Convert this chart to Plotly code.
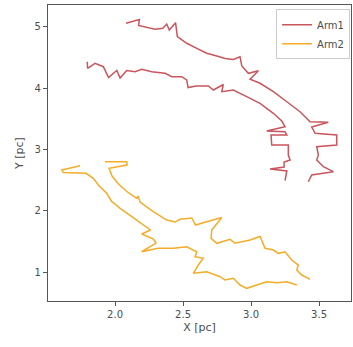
import plotly.graph_objects as go

# Arm1: outer and inner boundary traces (x, y in pc)
arm1_outer_x = [2.081, 2.132, 2.179, 2.173, 2.233, 2.294, 2.351, 2.380, 2.399, 2.445, 2.458,
                2.527, 2.601, 2.674, 2.748, 2.809, 2.870, 2.919, 2.932, 2.980, 3.054, 2.993,
                3.066, 3.164, 3.263, 3.360, 3.434, 3.568, 3.446, 3.471, 3.630, 3.630, 3.483,
                3.495, 3.483, 3.532, 3.605, 3.446, 3.421]
arm1_outer_y = [5.060, 5.090, 5.122, 5.024, 4.995, 4.962, 4.979, 5.049, 4.951, 5.070, 4.842,
                4.734, 4.652, 4.571, 4.527, 4.486, 4.469, 4.515, 4.363, 4.244, 4.287, 4.146,
                4.081, 3.944, 3.780, 3.617, 3.454, 3.444, 3.367, 3.264, 3.237, 3.073, 3.046,
                2.910, 2.829, 2.719, 2.638, 2.584, 2.474]

arm1_inner_x = [1.796, 1.798, 1.853, 1.914, 1.952, 2.013, 2.037, 2.086, 2.147, 2.196, 2.270,
                2.368, 2.417, 2.490, 2.527, 2.537, 2.596, 2.686, 2.723, 2.796, 2.785, 2.870,
                2.968, 3.066, 3.164, 3.226, 3.250, 3.115, 3.250, 3.263, 3.147, 3.152, 3.274,
                3.274, 3.287, 3.243, 3.243, 3.140, 3.263, 3.257, 3.250]
arm1_inner_y = [4.433, 4.326, 4.407, 4.352, 4.176, 4.290, 4.167, 4.290, 4.270, 4.309, 4.270,
                4.244, 4.189, 4.189, 4.135, 4.012, 4.037, 4.037, 3.971, 4.061, 3.944, 3.971,
                3.862, 3.754, 3.591, 3.465, 3.372, 3.302, 3.291, 3.237, 3.237, 3.073, 3.073,
                2.910, 2.829, 2.796, 2.714, 2.682, 2.649, 2.567, 2.494]

# Arm2: upper and lower boundary traces (x, y in pc)
arm2_upper_x = [1.926, 2.086, 2.088, 1.956, 1.978, 2.022, 2.086, 2.160, 2.169, 2.184, 2.270,
                2.380, 2.441, 2.478, 2.564, 2.592, 2.674, 2.785, 2.711, 2.706, 2.748, 2.846,
                2.882, 2.993, 3.066, 3.103, 3.164, 3.201, 3.250, 3.299, 3.348, 3.336, 3.373,
                3.434]
arm2_upper_y = [2.801, 2.801, 2.747, 2.693, 2.567, 2.445, 2.314, 2.203, 2.241, 2.143, 2.004,
                1.849, 1.816, 1.860, 1.882, 1.767, 1.821, 1.890, 1.686, 1.550, 1.469, 1.534,
                1.469, 1.522, 1.580, 1.387, 1.359, 1.305, 1.331, 1.196, 1.114, 1.033, 0.951,
                0.881]

arm2_lower_x = [1.743, 1.608, 1.620, 1.787, 1.840, 1.877, 1.939, 1.976, 2.000, 2.037, 2.123,
                2.221, 2.261, 2.196, 2.282, 2.301, 2.196, 2.316, 2.429, 2.527, 2.601, 2.588,
                2.649, 2.612, 2.576, 2.674, 2.772, 2.809, 2.870, 2.919, 2.968, 3.042, 3.115,
                3.189, 3.263, 3.336]
arm2_lower_y = [2.736, 2.665, 2.624, 2.611, 2.530, 2.420, 2.285, 2.148, 2.110, 2.040, 1.903,
                1.759, 1.686, 1.620, 1.539, 1.473, 1.331, 1.387, 1.387, 1.413, 1.331, 1.250,
                1.224, 1.114, 0.979, 1.005, 0.923, 0.869, 0.897, 0.788, 0.734, 0.788, 0.842,
                0.825, 0.842, 0.788]

x_ticks = [2.0, 2.5, 3.0, 3.5]
y_ticks = [1, 2, 3, 4, 5]

ARM1_COLOR = "rgb(200,86,92)"
ARM2_COLOR = "rgb(245,172,40)"
TEXT = "#4d4d4d"
AXIS = "#555555"

fig = go.Figure()
fig.add_trace(go.Scatter(
    x=arm1_outer_x + [None] + arm1_inner_x,
    y=arm1_outer_y + [None] + arm1_inner_y,
    mode="lines", name="Arm1", line=dict(color=ARM1_COLOR, width=1.5),
))
fig.add_trace(go.Scatter(
    x=arm2_upper_x + [None] + arm2_lower_x,
    y=arm2_upper_y + [None] + arm2_lower_y,
    mode="lines", name="Arm2", line=dict(color=ARM2_COLOR, width=1.5),
))

axis_common = dict(
    showgrid=False, zeroline=False, showline=True, mirror=True,
    linecolor=AXIS, linewidth=1.2, ticks="outside", ticklen=4,
    tickcolor=AXIS, tickwidth=1, tickfont=dict(size=10, color=TEXT),
)

fig.update_layout(
    width=353, height=347,
    margin=dict(l=48, r=2, t=5, b=46),
    paper_bgcolor="white", plot_bgcolor="white",
    font=dict(family="DejaVu Sans", color=TEXT),
    xaxis=dict(range=[1.507, 3.735], tickvals=x_ticks, ticktext=["2.0", "2.5", "3.0", "3.5"],
               title=dict(text="X [pc]", font=dict(size=11, color=TEXT), standoff=4),
               **axis_common),
    yaxis=dict(range=[0.527, 5.359], tickvals=y_ticks,
               title=dict(text="Y [pc]", font=dict(size=11, color=TEXT), standoff=8),
               **axis_common),
    legend=dict(x=0.997, y=0.986, xanchor="right", yanchor="top",
                bgcolor="rgba(255,255,255,0.9)", bordercolor="#cccccc", borderwidth=1,
                font=dict(size=10, color=TEXT), tracegroupgap=0),
    showlegend=True,
)

fig.write_html("out.html")
